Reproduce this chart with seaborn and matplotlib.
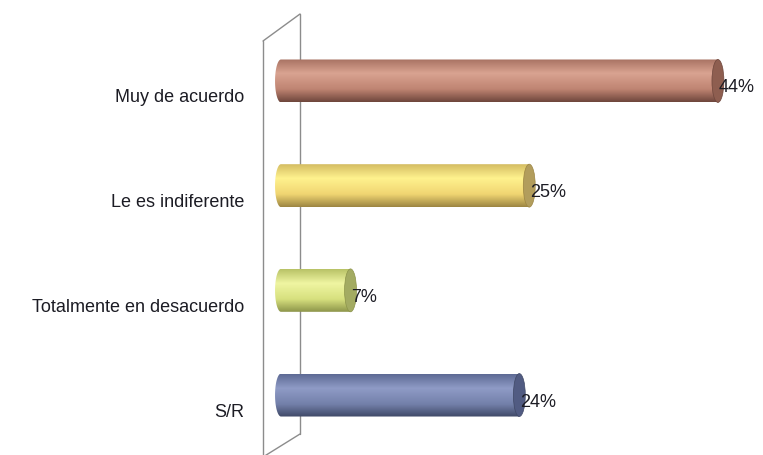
import numpy as np
import pandas as pd
import matplotlib
matplotlib.use("Agg")
import matplotlib.pyplot as plt
from matplotlib.colors import LinearSegmentedColormap
from matplotlib.patches import Ellipse, PathPatch
from matplotlib.path import Path
from matplotlib.lines import Line2D
from matplotlib.transforms import ScaledTranslation, offset_copy
import seaborn as sns

categories = ["Muy de acuerdo", "Le es indiferente", "Totalmente en desacuerdo", "S/R"]
values = [44, 25, 7, 24]
value_labels = ["44%", "25%", "7%", "24%"]

# (top edge, highlight, base, bottom edge, end face) per bar
shades = [
    ("#a87262", "#d9a391", "#bf8472", "#6e463c", "#8e5e50"),
    ("#d4bc62", "#fff28e", "#f0d572", "#9c8542", "#b29d5c"),
    ("#b8c266", "#eff5a2", "#d7e07e", "#8c944a", "#a3ab62"),
    ("#5d6a94", "#8f9bc6", "#7380aa", "#3f4866", "#515b82"),
]

sns.set_theme(style="white")
plt.rcParams["font.family"] = ["Liberation Sans", "DejaVu Sans"]

W, H = 763, 456
fig = plt.figure(figsize=(W / 100, H / 100), dpi=100)
fig.patch.set_facecolor("white")

# axes placed so the value axis starts where the cylinders begin
zero_px, scale = 281, 9.93          # pixel of value 0, pixels per percent
ax_left_px, top_px, bottom_px = 268, 29.6, 448.4
ax = fig.add_axes([ax_left_px / W, (H - bottom_px) / H,
                   (W - ax_left_px) / W, (bottom_px - top_px) / H])
ax.set_facecolor("none")
xlim = (-(zero_px - ax_left_px) / scale, (W - zero_px) / scale)

df = pd.DataFrame({"categoria": categories, "valor": values})
sns.barplot(data=df, x="valor", y="categoria", orient="h", width=0.41,
            color="white", ax=ax, zorder=1)

ax.set_xlim(*xlim)
ax.set_ylim(3.5, -0.5)

cap_w = 1.2
grad = np.linspace(0, 1, 256).reshape(-1, 1)

for patch, (c_top, c_hi, c_base, c_bot, c_end), lab in zip(ax.patches, shades, value_labels):
    x0 = patch.get_x()
    w = patch.get_width()
    y0 = patch.get_y()
    h = patch.get_height()
    x1 = x0 + w
    yc = y0 + h / 2
    patch.set_visible(False)

    # body outline: flat top/bottom with a rounded left end
    t = np.linspace(np.pi / 2, 3 * np.pi / 2, 60)
    arc_x = x0 + (cap_w / 2) * np.cos(t)
    arc_y = yc - (h / 2) * np.sin(t)
    verts = [(x1, y0)] + list(zip(arc_x, arc_y)) + [(x1, y0 + h), (x1, y0)]
    codes = [Path.MOVETO] + [Path.LINETO] * (len(verts) - 2) + [Path.CLOSEPOLY]
    outline = PathPatch(Path(verts, codes), facecolor="none", edgecolor="none")
    ax.add_patch(outline)

    cmap = LinearSegmentedColormap.from_list(
        "cyl", [(0.0, c_top), (0.33, c_hi), (0.7, c_base), (1.0, c_bot)])
    im = ax.imshow(grad, cmap=cmap, aspect="auto", interpolation="bilinear",
                   extent=(x0 - cap_w / 2, x1, y0 + h, y0), zorder=2)
    im.set_clip_path(outline)

    # end face of the cylinder
    ax.add_patch(Ellipse((x1, yc), cap_w, h, facecolor=c_end,
                         edgecolor=c_bot, linewidth=0.5, zorder=3))

    ax.text(x1, yc, lab, ha="left", va="center", fontsize=13, color="#1c1c24",
            transform=offset_copy(ax.transData, fig=fig, x=1, y=-6, units="dots"),
            zorder=4)

ax.set_xlim(*xlim)
ax.set_ylim(3.5, -0.5)

ax.set_xticks([])
ax.set_xlabel("")
ax.set_ylabel("")
for s in ax.spines.values():
    s.set_visible(False)
ax.tick_params(axis="y", length=0, pad=17, labelsize=13, labelcolor="#1c1c24")
shift = ScaledTranslation(0, -14 / 100, fig.dpi_scale_trans)
for tl in ax.get_yticklabels():
    tl.set_transform(tl.get_transform() + shift)

# 3-D side wall behind the category axis
def px(x, y):
    return x / W, (H - y) / H

wall = [((263, 42), (300, 15)), ((300, 15), (300, 435)),
        ((300, 435), (263, 458)), ((263, 42), (263, 458))]
for (xa, ya), (xb, yb) in wall:
    (fa, ga), (fb, gb) = px(xa, ya), px(xb, yb)
    fig.add_artist(Line2D([fa, fb], [ga, gb], transform=fig.transFigure,
                          color="#8c8c8c", linewidth=1.0, zorder=-1))

fig.savefig("out.png", dpi=100)
